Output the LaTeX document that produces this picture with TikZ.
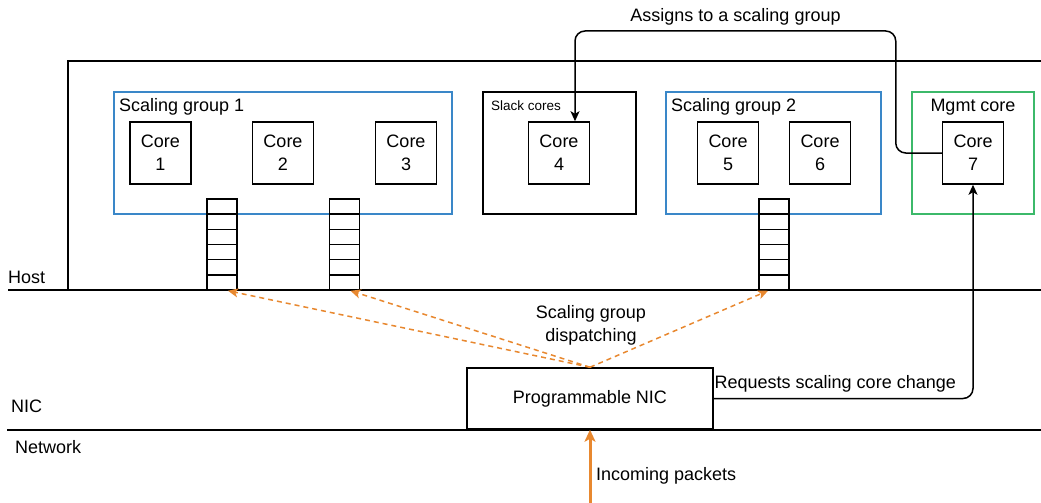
\documentclass[tikz,border=0pt]{standalone}
\usepackage{fontspec}
\setmainfont{Liberation Sans}
\usetikzlibrary{arrows.meta}
\definecolor{sgblue}{HTML}{3A87C8}
\definecolor{mgmtgreen}{HTML}{3CB96A}
\definecolor{pktorange}{HTML}{E8882F}
\begin{document}
\begin{tikzpicture}[x=1pt,y=-1pt,
  every node/.style={font=\fontsize{18}{23}\selectfont, inner sep=0pt},
  core/.style={draw, line width=1.5pt, minimum width=61, minimum height=62, align=center},
  grp/.style={draw, line width=1.5pt},
  cell/.style={draw, line width=1.5pt, minimum width=30, minimum height=15.17},
  sep/.style={line width=2pt},
  conn/.style={line width=1.5pt, rounded corners=10, -{Stealth[length=10pt,width=9pt,inset=2.5pt]}},
  disp/.style={pktorange, line width=1.5pt, dash pattern=on 5pt off 4pt, -{Stealth[length=10pt,width=9pt,inset=2.5pt]}},
  inc/.style={pktorange, line width=3pt, -{Stealth[length=12pt,width=11pt,inset=3pt]}},
  lbl/.style={anchor=base west},
]
\useasboundingbox (0,0) rectangle (1041,503);

% host enclosure and layer separators
\draw[sep] (1045,61) -- (68,61) -- (68,290);
\draw[sep] (8,290) -- (1045,290);
\draw[sep] (7,430) -- (1045,430);

% layer names
\node[lbl] (host) at (8,283) {Host};
\node[lbl] (niclbl) at (11,412) {NIC};
\node[lbl] (net) at (15,453) {Network};

% groups of cores
\node[grp, draw=sgblue, minimum width=338, minimum height=122] (sg1) at (283,153) {};
\node[grp, minimum width=153, minimum height=122] (slack) at (559.5,153) {};
\node[grp, draw=sgblue, minimum width=215, minimum height=122] (sg2) at (773.5,153) {};
\node[grp, draw=mgmtgreen, minimum width=122, minimum height=122] (mgmt) at (973,153) {};

\node[lbl] (sg1t) at (119,111) {Scaling group 1};
\node[lbl, font=\fontsize{13.5}{16}\selectfont] (slackt) at (491,110) {Slack cores};
\node[lbl] (sg2t) at (671,111) {Scaling group 2};
\node[anchor=base] (mgmtt) at (973,111) {Mgmt core};

% cores
\node[core] (c1) at (160.5,153) {Core\\1};
\node[core] (c2) at (283,153) {Core\\2};
\node[core] (c3) at (406,153) {Core\\3};
\node[core] (c4) at (559,153) {Core\\4};
\node[core] (c5) at (728,153) {Core\\5};
\node[core] (c6) at (820,153) {Core\\6};
\node[core] (c7) at (973,153) {Core\\7};

% dispatch queues
\foreach \q/\x in {q1/222, q2/344.5, q3/774} {
  \foreach \k in {0,...,5} {
    \node[cell] (\q-\k) at (\x,{199+15.17*\k+7.585}) {};
  }
}
\draw[sep] (8,290) -- (1045,290);

% programmable NIC
\node[draw, line width=1.5pt, minimum width=246, minimum height=61] (nic) at (590,398.5) {Programmable NIC};

% packet dispatching to scaling groups
\draw[disp] (nic.north) -- ([xshift=6]q1-5.south);
\draw[disp] (nic.north) -- ([xshift=6]q2-5.south);
\draw[disp] (nic.north) -- ([xshift=-6]q3-5.south);
\node[align=center, anchor=base] (dispt) at (591,341) {Scaling group\\dispatching};

% incoming traffic
\coordinate (pktsrc) at (590,506);
\draw[inc] (pktsrc) -- (nic.south);
\node[lbl] (inct) at (596,480.5) {Incoming packets};

% control path: NIC -> management core -> slack core
\draw[conn] (nic.east) -| (c7.south);
\node[lbl] (reqt) at (714.5,388) {Requests scaling core change};

\coordinate (topy) at (0,31);
\coordinate (c4in) at ([xshift=16]c4.north);
\draw[conn] (c7.west) -- ++(-46,0) |- (c4in |- topy) -- (c4in);
\node[anchor=base] (asgt) at (735.5,22) {Assigns to a scaling group};
\end{tikzpicture}
\end{document}
